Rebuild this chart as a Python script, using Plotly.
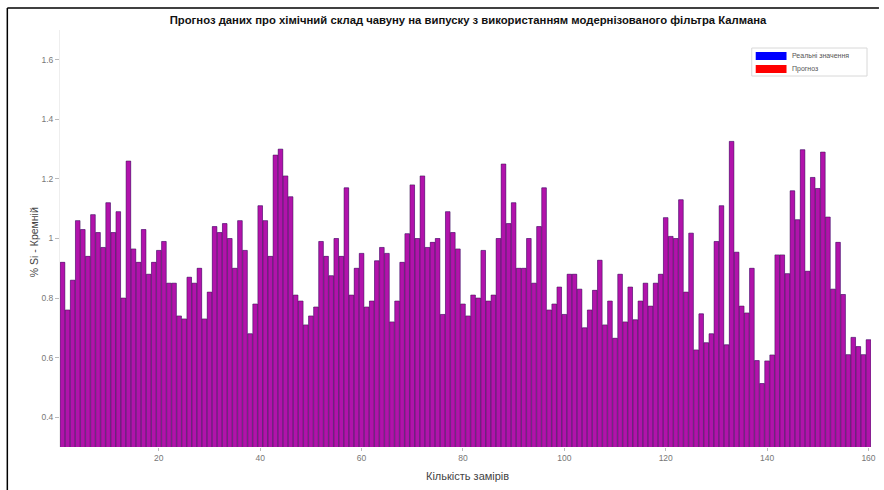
import plotly.graph_objects as go

# ---------------- data ----------------
samples = list(range(1, 161))

real_values = [
    0.92, 0.76, 0.86, 1.06, 1.03, 0.94, 1.08, 1.02, 0.97, 1.12,
    1.02, 1.09, 0.80, 1.26, 0.965, 0.92, 1.03, 0.88, 0.92, 0.96,
    0.99, 0.85, 0.85, 0.74, 0.73, 0.87, 0.85, 0.90, 0.73, 0.82,
    1.04, 1.02, 1.05, 1.00, 0.90, 1.06, 0.96, 0.68, 0.78, 1.11,
    1.06, 0.94, 1.28, 1.30, 1.21, 1.14, 0.81, 0.79, 0.71, 0.74,
    0.77, 0.99, 0.94, 0.875, 1.00, 0.94, 1.17, 0.81, 0.90, 0.95,
    0.77, 0.79, 0.925, 0.97, 0.95, 0.72, 0.79, 0.92, 1.016, 1.18,
    1.00, 1.21, 0.97, 0.987, 1.00, 0.745, 1.09, 1.02, 0.965, 0.78,
    0.74, 0.81, 0.80, 0.96, 0.79, 0.81, 1.00, 1.25, 1.05, 1.12,
    0.90, 0.90, 1.00, 0.85, 1.04, 1.17, 0.76, 0.78, 0.837, 0.745,
    0.88, 0.88, 0.83, 0.70, 0.76, 0.826, 0.927, 0.71, 0.79, 0.665,
    0.88, 0.72, 0.837, 0.727, 0.79, 0.85, 0.773, 0.85, 0.88, 1.07,
    1.007, 1.00, 1.13, 0.82, 1.018, 0.626, 0.747, 0.65, 0.68, 0.99,
    1.11, 0.643, 1.326, 0.954, 0.773, 0.75, 0.90, 0.59, 0.513, 0.589,
    0.609, 0.945, 0.945, 0.882, 1.16, 1.063, 1.298, 0.89, 1.205, 1.168,
    1.29, 1.072, 0.83, 0.987, 0.812, 0.61, 0.668, 0.637, 0.61, 0.66,
]

forecast_values = [
    0.92, 0.76, 0.86, 1.06, 1.03, 0.94, 1.08, 1.02, 0.97, 1.12,
    1.02, 1.09, 0.80, 1.26, 0.965, 0.92, 1.03, 0.88, 0.92, 0.96,
    0.99, 0.85, 0.85, 0.74, 0.73, 0.87, 0.85, 0.90, 0.73, 0.82,
    1.04, 1.02, 1.05, 1.00, 0.90, 1.06, 0.96, 0.68, 0.78, 1.11,
    1.06, 0.94, 1.28, 1.30, 1.21, 1.14, 0.81, 0.79, 0.71, 0.74,
    0.77, 0.99, 0.94, 0.875, 1.00, 0.94, 1.17, 0.81, 0.90, 0.95,
    0.77, 0.79, 0.925, 0.97, 0.95, 0.72, 0.79, 0.92, 1.016, 1.18,
    1.00, 1.21, 0.97, 0.987, 1.00, 0.745, 1.09, 1.02, 0.965, 0.78,
    0.74, 0.81, 0.80, 0.96, 0.79, 0.81, 1.00, 1.25, 1.05, 1.12,
    0.90, 0.90, 1.00, 0.85, 1.04, 1.17, 0.76, 0.78, 0.837, 0.745,
    0.88, 0.88, 0.83, 0.70, 0.76, 0.826, 0.927, 0.71, 0.79, 0.665,
    0.88, 0.72, 0.837, 0.727, 0.79, 0.85, 0.773, 0.85, 0.88, 1.07,
    1.007, 1.00, 1.13, 0.82, 1.018, 0.626, 0.747, 0.65, 0.68, 0.99,
    1.11, 0.643, 1.326, 0.954, 0.773, 0.75, 0.90, 0.59, 0.513, 0.589,
    0.609, 0.945, 0.945, 0.882, 1.16, 1.063, 1.298, 0.89, 1.205, 1.168,
    1.29, 1.072, 0.83, 0.987, 0.812, 0.61, 0.668, 0.637, 0.61, 0.66,
]

x_ticks = [20, 40, 60, 80, 100, 120, 140, 160]
y_ticks = [0.4, 0.6, 0.8, 1.0, 1.2, 1.4, 1.6]
y_tick_text = ["0.4", "0.6", "0.8", "1", "1.2", "1.4", "1.6"]

series_names = ["Реальні значення", "Прогноз"]
title_text = "Прогноз даних про хімічний склад чавуну на випуску з використанням модернізованого фільтра Калмана"
x_title = "Кількість замірів"
y_title = "% Si - Кремній"

# ---------------- layout geometry (pixels) ----------------
W, H = 884, 490
PL, PR, PT, PB = 60, 876, 30, 447


def px(xp):
    return (xp - PL) / (PR - PL)


def py(yp):
    return (PB - yp) / (PB - PT)


FONT = "Liberation Sans, Arial, Helvetica, sans-serif"

fig = go.Figure()
fig.add_trace(go.Bar(
    x=samples, y=real_values, name=series_names[0], base=0,
    marker=dict(color="rgb(50,0,255)", line=dict(color="rgba(40,0,70,0.6)", width=0.5)),
    width=0.9, showlegend=False,
))
fig.add_trace(go.Bar(
    x=samples, y=forecast_values, name=series_names[1], base=0,
    marker=dict(color="rgba(255,30,120,0.62)", line=dict(color="rgba(40,0,70,0.6)", width=0.5)),
    width=0.9, showlegend=False,
))

shapes = []
annotations = []

# custom MATLAB-style legend
shapes.append(dict(type="rect", xref="paper", yref="paper",
                   x0=px(756), x1=px(872), y0=py(76), y1=py(48),
                   line=dict(color="#d8d8d8", width=1), fillcolor="white"))
shapes.append(dict(type="rect", xref="paper", yref="paper",
                   x0=px(760), x1=px(791), y0=py(60), y1=py(52),
                   line=dict(width=0), fillcolor="#0000ff"))
shapes.append(dict(type="rect", xref="paper", yref="paper",
                   x0=px(760), x1=px(791), y0=py(73), y1=py(65),
                   line=dict(width=0), fillcolor="#ff0000"))
annotations.append(dict(xref="paper", yref="paper", x=px(794), y=py(56),
                        text=series_names[0], showarrow=False, xanchor="left", yanchor="middle",
                        font=dict(family=FONT, size=7, color="#555555")))
annotations.append(dict(xref="paper", yref="paper", x=px(794), y=py(69),
                        text=series_names[1], showarrow=False, xanchor="left", yanchor="middle",
                        font=dict(family=FONT, size=7, color="#555555")))

# outer document frame (left & top lines)
shapes.append(dict(type="line", xref="paper", yref="paper",
                   x0=px(7), x1=px(7), y0=py(8), y1=py(490),
                   line=dict(color="black", width=1.5)))
shapes.append(dict(type="line", xref="paper", yref="paper",
                   x0=px(7), x1=px(884), y0=py(8), y1=py(8),
                   line=dict(color="black", width=1.5)))

# axis titles
annotations.append(dict(xref="paper", yref="paper", x=px(470), y=py(476),
                        text=x_title, showarrow=False, xanchor="center", yanchor="middle",
                        font=dict(family=FONT, size=11, color="#444444")))
annotations.append(dict(xref="paper", yref="paper", x=px(34), y=py(242),
                        text=y_title, showarrow=False, xanchor="center", yanchor="middle",
                        textangle=-90,
                        font=dict(family=FONT, size=10.5, color="#444444")))

fig.update_layout(
    width=W, height=H,
    margin=dict(l=PL, r=W - PR, t=PT, b=H - PB, pad=0),
    paper_bgcolor="white", plot_bgcolor="white",
    barmode="overlay", bargap=0.1,
    title=dict(text="<b>" + title_text + "</b>", x=468 / W, xanchor="center",
               y=1 - 20 / H, yanchor="middle", yref="container",
               font=dict(family=FONT, size=11.3, color="#111111")),
    xaxis=dict(range=[0.5, 160.5], tickmode="array", tickvals=x_ticks,
               ticks="outside", ticklen=3, tickcolor="#bbbbbb",
               tickfont=dict(family=FONT, size=8.5, color="#777777"),
               showgrid=False, zeroline=False, showline=False),
    yaxis=dict(range=[0.3, 1.7], tickmode="array", tickvals=y_ticks, ticktext=y_tick_text,
               ticks="outside", ticklen=4, tickcolor="#bbbbbb",
               tickfont=dict(family=FONT, size=8.5, color="#777777"),
               showgrid=False, zeroline=False, showline=True, linecolor="#eeeeee"),
    shapes=shapes, annotations=annotations,
    font=dict(family=FONT),
)

fig.write_html("out.html")
